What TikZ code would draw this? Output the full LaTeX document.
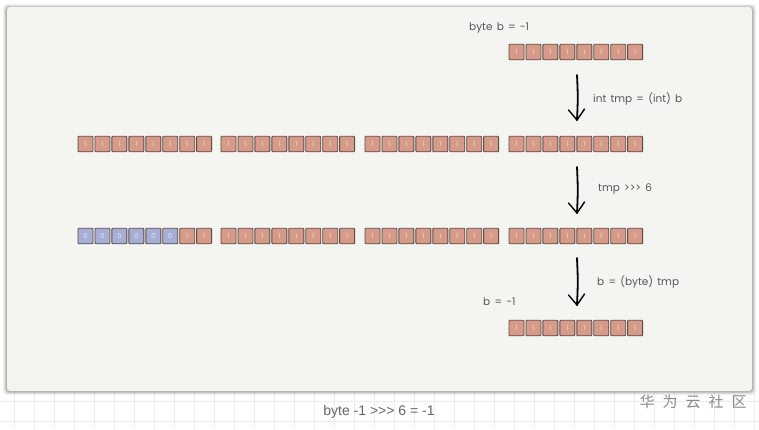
\documentclass[tikz,border=0pt]{standalone}
\usepackage{fontspec}
\usetikzlibrary{calc}
\setmainfont{Poppins}
\newfontfamily\lblf[WordSpace=1.5]{Poppins}
\newfontfamily\capfont{Liberation Sans}
\newfontfamily\cjk{Noto Sans CJK SC}
\definecolor{panelbg}{HTML}{F4F4F1}
\definecolor{gridc}{HTML}{ECECEC}
\definecolor{onefill}{HTML}{D59A88}
\definecolor{zerofill}{HTML}{A7AED6}
\definecolor{cellline}{HTML}{5C4B46}
\definecolor{onetxt}{HTML}{F6DDD2}
\definecolor{zerotxt}{HTML}{E6E9F7}
\definecolor{labelc}{HTML}{555555}
\definecolor{capc}{HTML}{666666}
\definecolor{wmc}{HTML}{8A8A8A}
\tikzset{
  onecell/.style={draw=cellline, line width=0.9pt, fill=onefill, rounded corners=0.8pt,
    minimum width=15pt, minimum height=15.5pt, inner sep=0pt, text=onetxt,
    font=\fontsize{6.5}{6.5}\selectfont},
  zerocell/.style={onecell, fill=zerofill, text=zerotxt},
  lbl/.style={anchor=west, text=labelc, font=\lblf\fontsize{10.5}{11}\selectfont, inner sep=0pt},
  handarrow/.style={line width=1.8pt, black, line cap=round},
}
% #1 x of group left, #2 y centre, #3 name prefix, #4 number of zeros
\newcommand{\bytegroup}[4]{%
  \foreach \i in {1,...,8}{%
    \pgfmathsetmacro{\cx}{#1+7.5+(\i-1)*16.95}%
    \ifnum\i>#4\relax
      \node[onecell] (#3c\i) at (\cx,#2) {1};
    \else
      \node[zerocell] (#3c\i) at (\cx,#2) {0};
    \fi
  }%
}
\begin{document}
\begin{tikzpicture}[x=1pt,y=-1pt]
\useasboundingbox (0,0) rectangle (759,429);
% page background with grid
\fill[white] (0,0) rectangle (759,429);
\foreach \gx in {14,34,...,759} \draw[gridc, line width=0.5pt] (\gx,390) -- (\gx,429);
\foreach \gy in {401,421} \draw[gridc, line width=0.5pt] (0,\gy) -- (759,\gy);
% panel shadow
\foreach \k/\op in {4/0.05,3/0.07,2/0.1,1/0.14}{
  \fill[black, opacity=\op, rounded corners=4pt] (7-\k,7-\k+1) rectangle (752+\k,391+\k);
}
\fill[panelbg, rounded corners=3pt] (7,7) rectangle (752,391);
% rows
\bytegroup{509}{52}{ra}{0}
\foreach \g/\gx in {1/78,2/221,3/365,4/509}{
  \bytegroup{\gx}{144}{rb\g}{0}
}
\bytegroup{78}{236}{rc1}{6}
\foreach \g/\gx in {2/221,3/365,4/509}{
  \bytegroup{\gx}{236}{rc\g}{0}
}
\bytegroup{509}{328}{rd}{0}
% labels
\node[lbl] (lb1) at (469,28) {byte b = -1};
\node[lbl] (lb2) at (593,99) {int tmp = (int) b};
\node[lbl] (lb3) at (598,189) {tmp {>}{>}{>} 6};
\node[lbl] (lb4) at (597,282) {b = (byte) tmp};
\node[lbl] (lb5) at (483,302) {b = -1};
% arrows
\foreach \n/\ya/\yb in {1/75/120,2/167/213,3/258/305}{
  \coordinate (a\n s) at (577,\ya);
  \coordinate (a\n e) at (577,\yb);
  \draw[handarrow] (a\n s) .. controls ($(a\n s)!0.5!(a\n e)+(1,0)$) .. (a\n e);
  \draw[handarrow, line width=1.4pt] ($(a\n e)+(-8.5,-10)$) -- (a\n e) -- ($(a\n e)+(7.5,-11)$);
}
% caption and watermark
\node[text=capc, font=\capfont\fontsize{14}{14}\selectfont, inner sep=0pt] (cap) at (379,412) {byte -1 {>}{>}{>} 6 = -1};
\node[text=wmc, font=\cjk\fontsize{15}{16}\selectfont, inner sep=0pt] (wm) at (693,402) {华\hspace{8pt}为\hspace{8pt}云\hspace{8pt}社\hspace{8pt}区};
\end{tikzpicture}
\end{document}
